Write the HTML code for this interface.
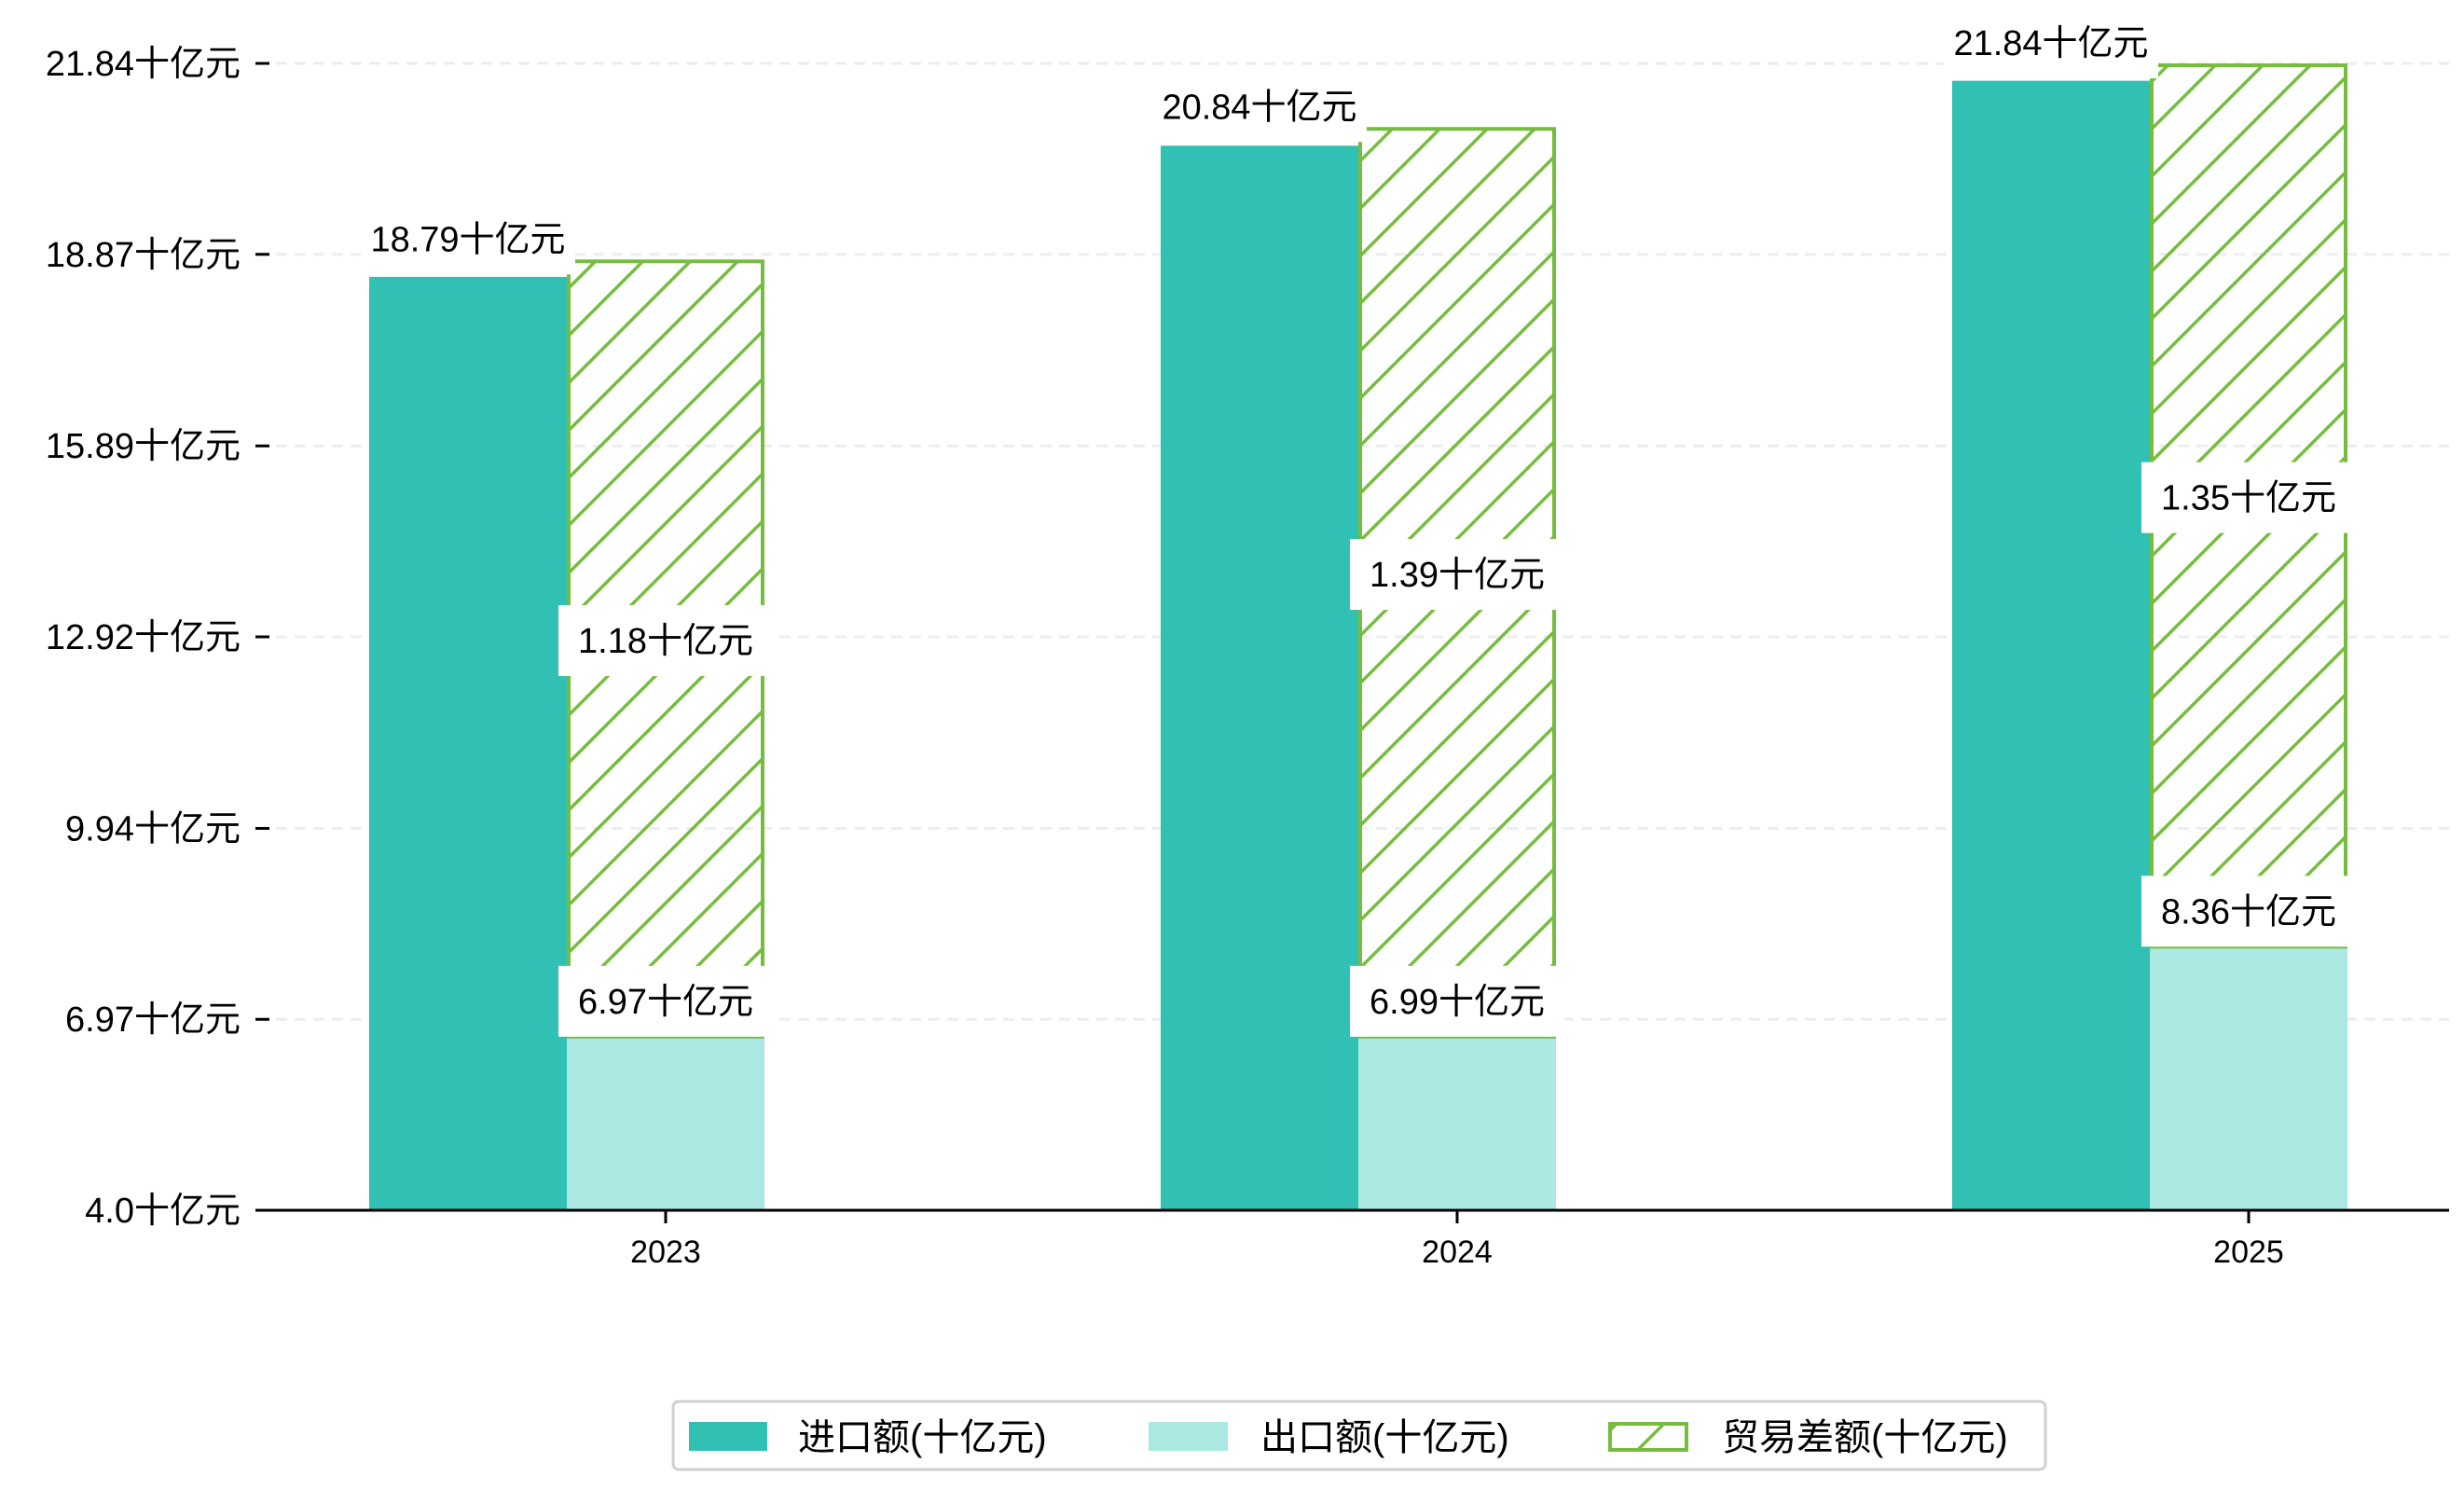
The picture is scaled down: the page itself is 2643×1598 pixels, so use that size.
<!DOCTYPE html>
<html><head><meta charset="utf-8">
<style>
html,body{margin:0;padding:0;background:#fff;}
svg{display:block;}
text{font-family:"Liberation Sans","Noto Sans CJK SC",sans-serif;fill:#000;}
</style></head>
<body>
<svg id="chart" width="2643" height="1598" viewBox="0 0 2643 1598" xmlns="http://www.w3.org/2000/svg">
<defs>
<pattern id="hatch" patternUnits="userSpaceOnUse" width="36" height="36" patternTransform="rotate(45)">
<line x1="0" y1="0" x2="0" y2="36" stroke="#76bd3f" stroke-width="7"/>
</pattern>
</defs>
<g id="grid"></g>
<g id="bars"></g>
<g id="labels"></g>
<g id="axes"></g>
<g id="legend">
<rect x="722" y="1503" width="1472" height="73" rx="6" fill="#fff" stroke="#d0d0d0" stroke-width="3"/>
<rect x="739" y="1525" width="84" height="31" fill="#30c0b4"/>
<text x="856" y="1555" font-size="40">进口额(十亿元)</text>
<rect x="1232" y="1525" width="85" height="31" fill="#abe8e2"/>
<text x="1352" y="1555" font-size="40">出口额(十亿元)</text>
<rect x="1727" y="1527" width="82" height="28" fill="url(#hatch)" stroke="#76bd3f" stroke-width="4"/>
<text x="1847" y="1555" font-size="40">贸易差额(十亿元)</text>
</g>
</svg>
<script>
const years = ["2023","2024","2025"];
const imports = [18.52, 20.56, 21.57];
const exportsV = [6.70, 6.70, 8.10];
const tradeTop = [18.79, 20.85, 21.84];
const importLabels = ["18.79十亿元","20.84十亿元","21.84十亿元"];
const exportLabels = ["6.97十亿元","6.99十亿元","8.36十亿元"];
const tradeLabels = ["1.18十亿元","1.39十亿元","1.35十亿元"];
const yTicks = [4.0, 6.97, 9.94, 12.92, 15.89, 18.87, 21.84];
const yTickLabels = ["4.0十亿元","6.97十亿元","9.94十亿元","12.92十亿元","15.89十亿元","18.87十亿元","21.84十亿元"];

const NS = "http://www.w3.org/2000/svg";
const yMin = 4.0, yMax = 21.84, yBottom = 1298, yTopPx = 68;
function y(v){ return yBottom - (v - yMin) * (yBottom - yTopPx) / (yMax - yMin); }
const bandStart = 608, bandStep = 849, barW = 212;
function xc(i){ return bandStart + i * bandStep; }
function mk(tag, attrs, parent){ const e=document.createElementNS(NS,tag); for(const k in attrs) e.setAttribute(k,attrs[k]); parent.appendChild(e); return e; }

const grid=document.getElementById('grid'), bars=document.getElementById('bars'), labels=document.getElementById('labels'), axes=document.getElementById('axes');

yTicks.forEach((t,i)=>{
  if(i>0){
    const g=mk('line',{x1:276,x2:2627,y1:y(t),y2:y(t),stroke:'#eeeeee','stroke-width':3,'stroke-dasharray':'12,8'},grid);
    
    
  }
  const tk=mk('line',{x1:274,x2:289,y1:y(t),y2:y(t),stroke:'#000','stroke-width':3},axes);
  
  
  const tl=mk('text',{x:258,y:y(t)+13,'font-size':38,'text-anchor':'end'},axes);
  tl.textContent=yTickLabels[i];
  
  
});
const ax=mk('line',{x1:276,x2:2627,y1:yBottom,y2:yBottom,stroke:'#000','stroke-width':3},axes);



function labelBox(cx, cy, txt, name){
  const b=mk('rect',{x:cx-115,y:cy-38,width:230,height:76,fill:'#fff'},labels);
  
  
  const t=mk('text',{x:cx,y:cy+13,'font-size':38,'text-anchor':'middle'},labels);
  t.textContent=txt;
  
  
}

years.forEach((yr,i)=>{
  const c=xc(i);
  const ib=mk('rect',{x:c-barW,y:y(imports[i]),width:barW,height:yBottom-y(imports[i]),fill:'#30c0b4'},bars);
  
  
  const eb=mk('rect',{x:c,y:y(exportsV[i]),width:barW,height:yBottom-y(exportsV[i]),fill:'#abe8e2'},bars);
  
  
  const tb=mk('rect',{x:c+2,y:y(tradeTop[i])+2,width:barW-4,height:y(exportsV[i])-y(tradeTop[i])-2,fill:'url(#hatch)',stroke:'#76bd3f','stroke-width':4},bars);
  
  
  labelBox(c-barW/2, y(tradeTop[i])-22, importLabels[i], 'import-label-'+yr);
  labelBox(c+barW/2, (y(tradeTop[i])+y(exportsV[i]))/2-8, tradeLabels[i], 'trade-label-'+yr);
  labelBox(c+barW/2, y(exportsV[i])-38, exportLabels[i], 'export-label-'+yr);
  const xt=mk('line',{x1:c+barW/2,x2:c+barW/2,y1:yBottom,y2:yBottom+14,stroke:'#000','stroke-width':3},axes);
  
  
  const xl=mk('text',{x:c+barW/2,y:1354,'font-size':34,'text-anchor':'middle'},axes);
  xl.textContent=yr;
  
  
});
</script>
</body></html>
